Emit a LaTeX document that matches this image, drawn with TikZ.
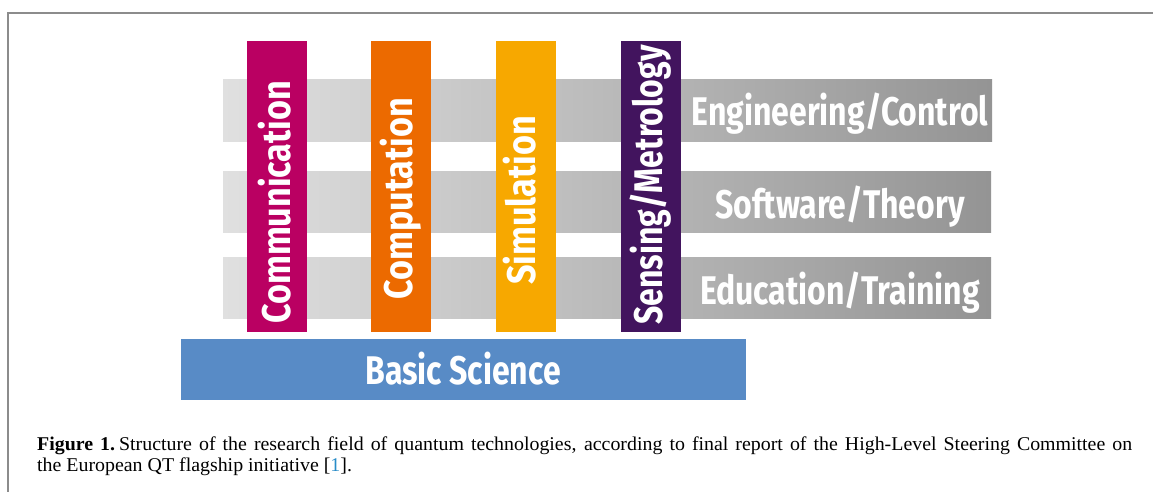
\documentclass[tikz,border=0pt]{standalone}
\usepackage{fontspec}
\setmainfont[FakeStretch=1.02]{Liberation Serif}
\newfontfamily\labfont[FakeStretch=0.8]{Fira Sans}
\newfontfamily\vlabfont[FakeStretch=0.855]{Fira Sans}
\definecolor{commc}{RGB}{186,0,98}
\definecolor{compc}{RGB}{236,106,0}
\definecolor{simc}{RGB}{247,168,0}
\definecolor{sensc}{RGB}{66,20,94}
\definecolor{basicc}{RGB}{88,139,198}
\definecolor{bandl}{RGB}{224,224,224}
\definecolor{bandr}{RGB}{148,148,148}
\definecolor{framec}{RGB}{140,140,140}
\definecolor{refc}{RGB}{40,140,200}
\begin{document}
\begin{tikzpicture}[x=1pt,y=-1pt,
  pillar/.style={minimum width=60pt, minimum height=291pt, inner sep=0pt, outer sep=0pt},
  band/.style={minimum height=61pt, inner sep=0pt, outer sep=0pt, left color=bandl, right color=bandr},
  lab/.style={font=\labfont\bfseries\fontsize{40}{40}\selectfont, text=white, inner sep=0pt},
  vlab/.style={font=\vlabfont\bfseries\fontsize{40}{40}\selectfont, text=white, inner sep=0pt, rotate=90, anchor=base west},
  captxt/.style={font=\fontsize{19.5}{21}\selectfont, anchor=base west, inner sep=0pt}]
\useasboundingbox (0,0) rectangle (1153,492);
\fill[white] (0,0) rectangle (1153,492);
% frame
\draw[framec, line width=2pt] (8,493) -- (8,13) -- (1154,13);
% bands
\node[band, minimum width=769pt] (b1) at (607.5,110.5) {};
\node[band, minimum width=768pt] (b2) at (607,202) {};
\node[band, minimum width=768pt] (b3) at (607,288) {};
% pillars
\node[pillar, fill=commc] (p1) at (277,186.5) {};
\node[pillar, fill=compc] (p2) at (401,186.5) {};
\node[pillar, fill=simc]  (p3) at (525.5,186.5) {};
\node[pillar, fill=sensc] (p4) at (651,186.5) {};
% basic science
\node[minimum width=565pt, minimum height=61pt, inner sep=0pt, fill=basicc] (bs) at (463.5,369.5) {};
% labels
\node[vlab] (t1) at (290,324) {Communication};
\node[vlab] (t2) at (412,300) {Computation};
\node[vlab] (t3) at (535.5,285) {Simulation};
\node[vlab, font=\labfont\bfseries\fontsize{40}{40}\selectfont] (t4) at (662,325) {Sensing/Metrology};
\node[lab, anchor=base] (l1) at (840,126) {Engineering/Control};
\node[lab, anchor=base] (l2) at (840,218) {Software/Theory};
\node[lab, anchor=base] (l3) at (840,304) {Education/Training};
\node[lab, anchor=base] (l4) at (463,384) {Basic Science};
% caption
\node[captxt] (c1) at (37,450) {\makebox[1095pt][s]{\textbf{Figure 1.}\hspace{4pt}Structure of the research field of quantum technologies, according to final report of the High-Level Steering Committee on}};
\node[captxt] (c2) at (37,471) {the European QT flagship initiative [\textcolor{refc}{1}].};
\end{tikzpicture}
\end{document}
